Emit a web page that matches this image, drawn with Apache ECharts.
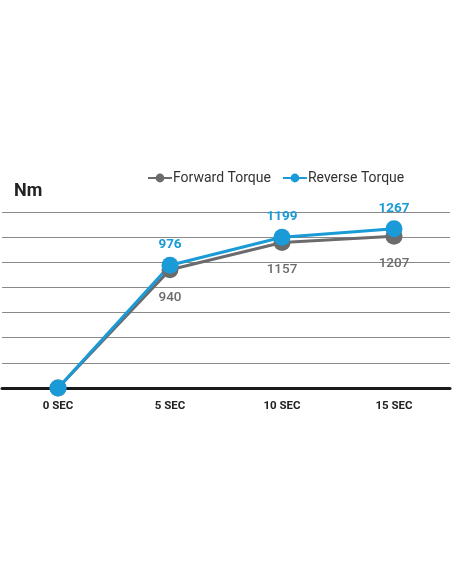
<!DOCTYPE html>
<html><head><meta charset="utf-8">
<script src="https://cdn.jsdelivr.net/npm/echarts@6/dist/echarts.min.js"></script>
<style>html,body{margin:0;padding:0;background:#fff}#c{width:452px;height:584px}</style>
</head><body><div id="c"></div>
<script>
const categories = ['0 SEC', '5 SEC', '10 SEC', '15 SEC'];
const forwardTorque = [0, 940, 1157, 1207];
const reverseTorque = [0, 976, 1199, 1267];
const seriesNames = ['Forward Torque', 'Reverse Torque'];
const unitLabel = 'Nm';

const chart = echarts.init(document.getElementById('c'), null, {renderer: 'canvas'});
const fam = 'Roboto, "DejaVu Sans", sans-serif';
chart.setOption({
  animation: false,
  title: {text: unitLabel, left: 9, top: 177, textStyle: {fontFamily: fam, fontSize: 18, fontWeight: 'bold', color: '#222'}},
  legend: {
    top: 166, left: 142, itemGap: 11, itemWidth: 24, itemHeight: 11,
    textStyle: {fontFamily: fam, fontSize: 14, color: '#333', padding: [0,0,0,-4]},
    data: seriesNames
  },
  grid: {left: 2, right: 2, top: 212, bottom: 196, containLabel: false},
  xAxis: {
    type: 'category', data: categories, boundaryGap: true,
    axisLine: {lineStyle: {color: '#1a1a1a', width: 3}},
    axisTick: {show: false},
    axisLabel: {fontFamily: fam, fontSize: 11.5, fontWeight: 'bold', color: '#222', margin: 12}
  },
  yAxis: {
    type: 'value', min: 0, max: 1400, interval: 200,
    axisLabel: {show: false}, axisLine: {show: false}, axisTick: {show: false},
    splitLine: {lineStyle: {color: '#8a8a8a', width: 1}}
  },
  series: [
    {
      name: seriesNames[0], type: 'line', data: forwardTorque,
      symbol: 'circle', symbolSize: 17,
      lineStyle: {color: '#6b6b6d', width: 3}, itemStyle: {color: '#6b6b6d'},
      label: {show: true, position: 'bottom', distance: 12, fontFamily: fam, fontSize: 13.5, fontWeight: 500, color: '#6b6b6d',
        formatter: p => p.dataIndex === 0 ? '' : p.value}
    },
    {
      name: seriesNames[1], type: 'line', data: reverseTorque,
      symbol: 'circle', symbolSize: 17,
      lineStyle: {color: '#1a9ad6', width: 3}, itemStyle: {color: '#1a9ad6'},
      label: {show: true, position: 'top', distance: 5, fontFamily: fam, fontSize: 13.5, fontWeight: 'bold', color: '#1a9ad6',
        formatter: p => p.dataIndex === 0 ? '' : p.value}
    }
  ]
});
</script></body></html>
